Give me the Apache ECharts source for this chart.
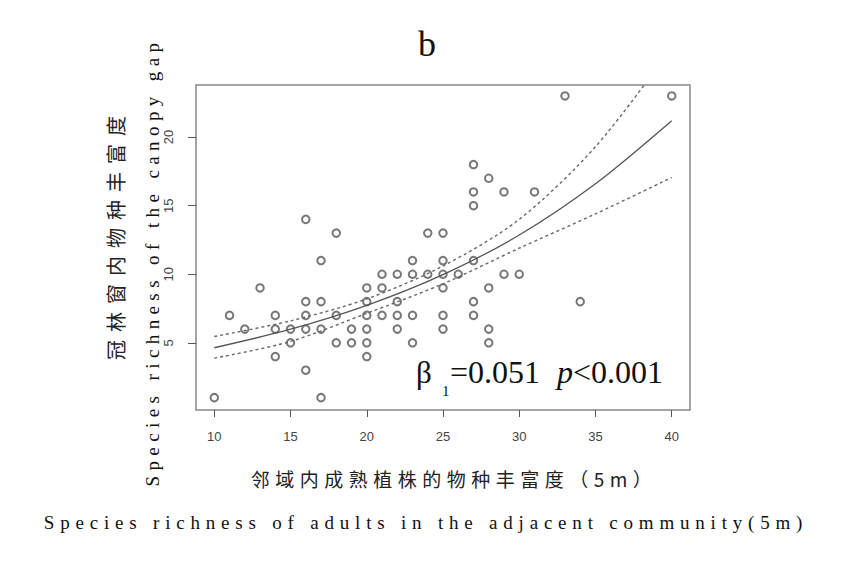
<!DOCTYPE html>
<html>
<head>
<meta charset="utf-8">
<script src="https://cdn.jsdelivr.net/npm/echarts@6/dist/echarts.min.js"></script>
<style>
  html, body { margin: 0; padding: 0; background: #fff; }
  #chart { width: 844px; height: 562px; }
</style>
</head>
<body>
<div id="chart"></div>
<script>
// adult richness in the 5 m neighbourhood (x) and canopy gap richness (y), one entry per plot
const adultX = [10, 11, 12, 13, 14, 14, 14, 15, 15, 16, 16, 16, 16, 16, 17, 17, 17, 17, 18, 18, 18, 19, 19,
  20, 20, 20, 20, 20, 20, 21, 21, 21, 22, 22, 22, 22, 23, 23, 23, 23, 24, 24, 25, 25, 25, 25, 25, 25, 26,
  27, 27, 27, 27, 27, 27, 28, 28, 28, 28, 29, 29, 30, 31, 33, 34, 40];
const gapY = [1, 7, 6, 9, 7, 6, 4, 6, 5, 14, 8, 7, 6, 3, 11, 8, 6, 1, 13, 7, 5, 6, 5,
  9, 8, 7, 6, 5, 4, 10, 9, 7, 10, 8, 7, 6, 11, 10, 7, 5, 13, 10, 13, 11, 10, 9, 7, 6, 10,
  18, 16, 15, 11, 8, 7, 17, 9, 6, 5, 16, 10, 10, 16, 23, 8, 23];

// fitted curve and its band
const fitX = [10, 15, 20, 25, 30, 35, 40];
const fitY = [4.64, 5.99, 7.73, 9.97, 12.86, 16.6, 21.2];
const upperY = [5.46, 6.6, 8.2, 10.6, 14.0, 19.3, 26.5];
const lowerY = [3.88, 5.1, 7.15, 9.3, 11.9, 14.4, 17.05];

const xTicks = [10, 15, 20, 25, 30, 35, 40];
const yTicks = [5, 10, 15, 20];

const yTitleCn = '冠林窗内物种丰富度';
const yTitleEn = 'Species richness of the canopy gap';
const xTitleCn = '邻域内成熟植株的物种丰富度（5m）';
const xTitleEn = 'Species richness of adults in the adjacent community(5m)';

const serif = "'Liberation Serif', 'DejaVu Serif', serif";
const sans = "'Liberation Sans', Arial, sans-serif";
const cjk = "'Noto Sans CJK SC', sans-serif";

const zip = (a, b) => a.map((v, i) => [v, b[i]]);

const chart = echarts.init(document.getElementById('chart'), null, {renderer: 'svg'});

const option = {
    animation: false,
    backgroundColor: '#fff',
    grid: {
        left: 196, top: 85, width: 494, height: 325,
        show: true, borderColor: '#888', borderWidth: 1.5
    },
    xAxis: {
        type: 'value', min: 8.8, max: 41.2,
        axisLine: {show: false},
        splitLine: {show: false},
        axisTick: {show: true, customValues: xTicks, length: 7, lineStyle: {color: '#555', width: 1}},
        axisLabel: {customValues: xTicks, margin: 20, fontSize: 13, color: '#444', fontFamily: sans}
    },
    yAxis: {
        type: 'value', min: 0.1, max: 23.8,
        axisLine: {show: false},
        splitLine: {show: false},
        axisTick: {show: true, customValues: yTicks, length: 8, lineStyle: {color: '#555', width: 1}},
        axisLabel: {customValues: yTicks, rotate: 90, margin: 21, fontSize: 13, color: '#444', fontFamily: sans}
    },
    series: [
        {
            type: 'scatter',
            data: zip(adultX, gapY),
            symbol: 'emptyCircle',
            symbolSize: 7.5,
            itemStyle: {color: '#555', borderColor: '#555', borderWidth: 1.2}
        },
        {
            type: 'line', data: zip(fitX, fitY), smooth: 0.3, showSymbol: false,
            lineStyle: {color: '#555', width: 1.3}
        },
        {
            type: 'line', data: zip(fitX, upperY), smooth: 0.3, showSymbol: false,
            lineStyle: {color: '#666', width: 1.4, type: [3, 3]}
        },
        {
            type: 'line', data: zip(fitX, lowerY), smooth: 0.3, showSymbol: false,
            lineStyle: {color: '#666', width: 1.4, type: [3, 3]}
        }
    ],
    graphic: [
        {type: 'text', x: 427, y: 44, style: {text: 'b', font: '36px ' + serif, fill: '#111', align: 'center', verticalAlign: 'middle'}},
        {type: 'text', x: 115, y: 234, rotation: Math.PI / 2,
            style: {text: yTitleCn, font: '20px ' + cjk, fill: '#222', align: 'center', verticalAlign: 'middle'}},
        {type: 'text', x: 152, y: 262, rotation: Math.PI / 2,
            style: {text: yTitleEn, font: '19px ' + serif, fill: '#111', align: 'center', verticalAlign: 'middle'}},
        {type: 'text', x: 454, y: 478,
            style: {text: xTitleCn, font: '19px ' + cjk, fill: '#222', align: 'center', verticalAlign: 'middle'}},
        {type: 'text', x: 426, y: 522,
            style: {text: xTitleEn, font: '19px ' + serif, fill: '#111', align: 'center', verticalAlign: 'middle'}},
        // beta annotation
        {type: 'text', x: 416, y: 388, style: {text: 'β', font: '31px ' + serif, fill: '#111', verticalAlign: 'bottom'}},
        {type: 'text', x: 442, y: 398, style: {text: '1', font: '15px ' + serif, fill: '#111', verticalAlign: 'bottom'}},
        {type: 'text', x: 450, y: 388, style: {text: '=0.051', font: '32px ' + serif, fill: '#111', verticalAlign: 'bottom'}},
        {type: 'text', x: 557, y: 388, style: {text: 'p', font: 'italic 32px ' + serif, fill: '#111', verticalAlign: 'bottom'}},
        {type: 'text', x: 573, y: 388, style: {text: '<0.001', font: '32px ' + serif, fill: '#111', verticalAlign: 'bottom'}}
    ]
};

chart.setOption(option);

// the original titles are set with wide letter spacing
const spacing = {};
spacing[yTitleCn] = '8px';
spacing[yTitleEn] = '5.4px';
spacing[xTitleCn] = '5.5px';
spacing[xTitleEn] = '5.8px';
function spreadTitles() {
    document.querySelectorAll('#chart text').forEach(t => {
        const s = spacing[t.textContent];
        if (s) {
            t.style.letterSpacing = s;
        }
    });
}
chart.on('finished', spreadTitles);
spreadTitles();
</script>
</body>
</html>
